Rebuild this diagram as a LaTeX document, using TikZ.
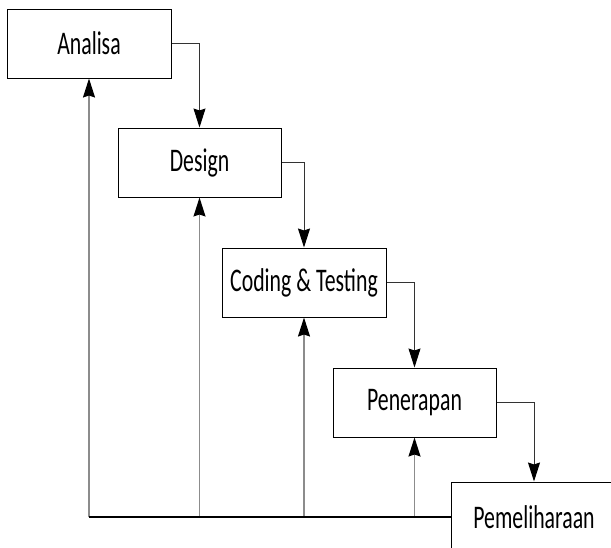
\documentclass[tikz,border=0pt]{standalone}
\usepackage{fontspec}
\newfontfamily\boxfont[FakeStretch=0.66]{Carlito}
\usetikzlibrary{arrows.meta}
\begin{document}
\begin{tikzpicture}[x=1pt,y=-1pt,
  stage/.style={draw=black, line width=1pt, rectangle, inner sep=0pt, font=\boxfont\fontsize{33}{33}\selectfont},
  tip/.style={-{Stealth[length=19pt,width=12pt,inset=2pt,color=black]}},
  flow/.style={draw=black!80, line width=1pt, tip},
  back/.style={draw=black!45, line width=1.3pt, tip},
  base/.style={draw=black, line width=1.6pt}]
\useasboundingbox (0,0) rectangle (611,547);
\begin{scope}
\clip (0,0) rectangle (611,547);
\node[stage, minimum width=164pt, minimum height=69pt] (ana) at (89,43.5) {Analisa};
\node[stage, minimum width=163pt, minimum height=69pt] (des) at (199.5,162.5) {Design};
\node[stage, minimum width=164pt, minimum height=69pt] (cod) at (304,282.5) {Coding \& Testing};
\node[stage, minimum width=163pt, minimum height=69pt] (pen) at (414.5,402.5) {Penerapan};
\node[stage, minimum width=166pt, minimum height=70pt] (pem) at (534,517) {Pemeliharaan};
\end{scope}
\draw[flow] (ana.east) -| (des.north);
\draw[flow] (des.east) -| (cod.north);
\draw[flow] (cod.east) -| (pen.north);
\draw[flow] (pen.east) -| (pem.north);
\coordinate (b1) at (ana.south |- pem.west);
\coordinate (b2) at (des.south |- pem.west);
\coordinate (b3) at (cod.south |- pem.west);
\coordinate (b4) at (pen.south |- pem.west);
\draw[back] (b1) -- (ana.south);
\draw[back] (b2) -- (des.south);
\draw[back] (b3) -- (cod.south);
\draw[back] (b4) -- (pen.south);
\draw[base] (b1) -- (pem.west);
\end{tikzpicture}
\end{document}
